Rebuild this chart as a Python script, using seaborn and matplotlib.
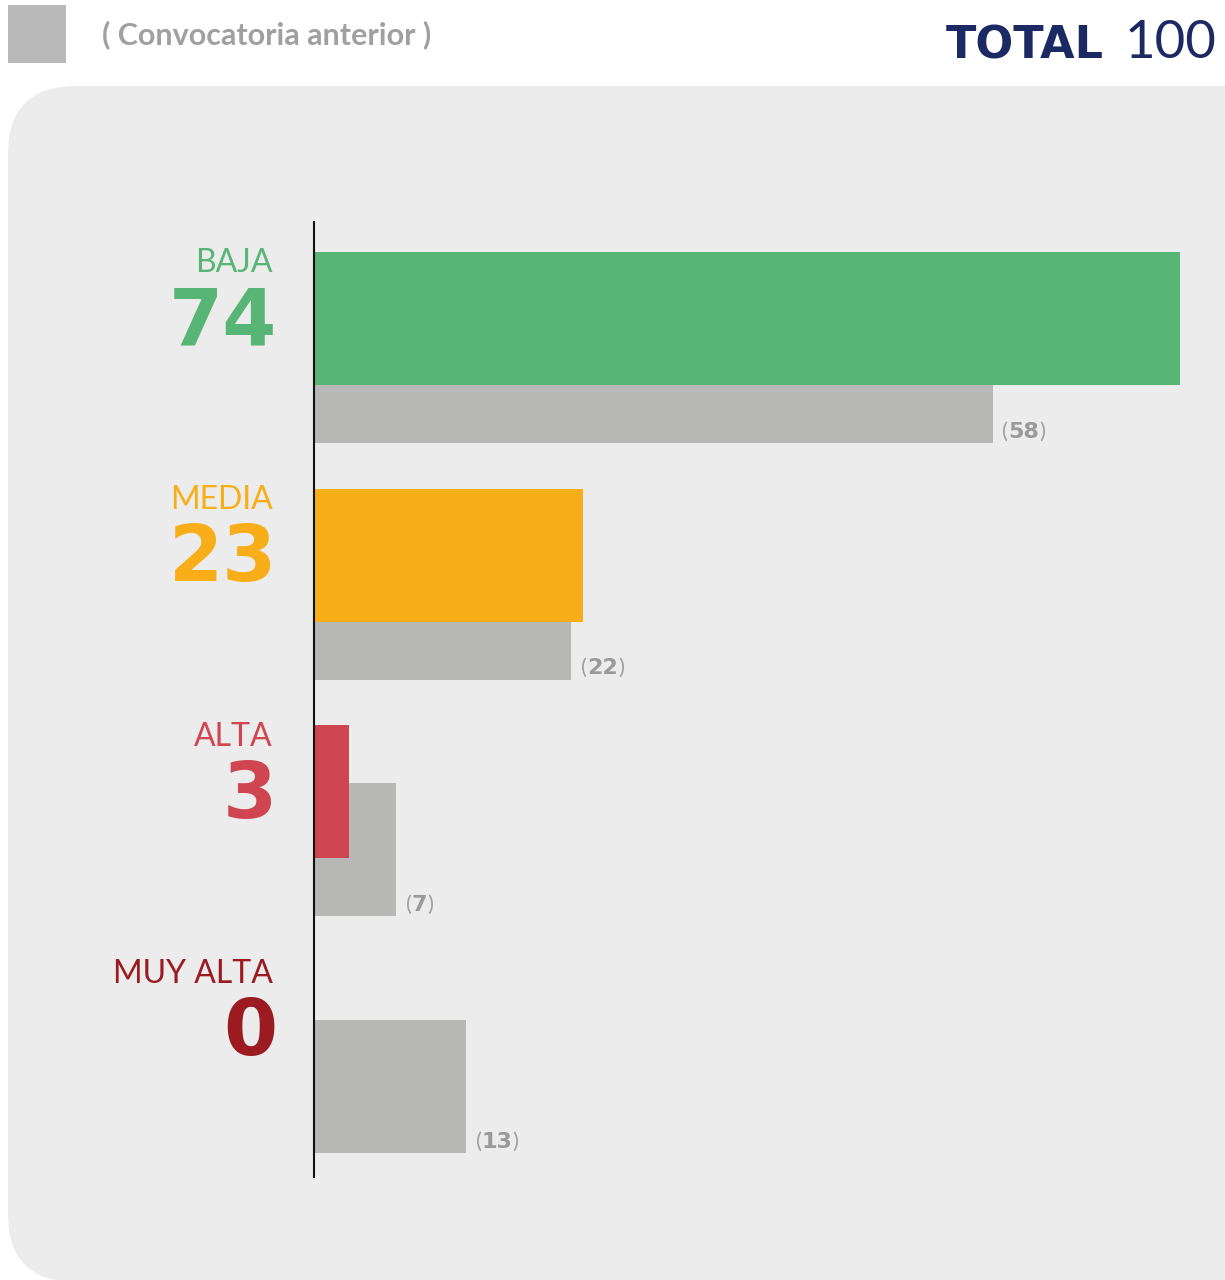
import matplotlib
matplotlib.use("Agg")
import matplotlib.pyplot as plt
from matplotlib.patches import FancyBboxPatch, Rectangle
from matplotlib.transforms import IdentityTransform
import seaborn as sns

# datos
categorias = ['BAJA', 'MEDIA', 'ALTA', 'MUY ALTA']
actual = [74, 23, 3, 0]
anterior = [58, 22, 7, 13]
colores = ['#57b575', '#f7ae19', '#cf4650', '#9b1b21']
gris = '#b8b8b6'
total = 100

sns.set_theme(style='white')
plt.rcParams['font.family'] = ['Lato', 'DejaVu Sans']

W, H = 1225, 1280
fig = plt.figure(figsize=(W / 100, H / 100), dpi=100)
fig.patch.set_facecolor('white')

# panel gris de fondo con esquinas redondeadas
panel = FancyBboxPatch((8, -2), 1400, H - 86 + 2, boxstyle='round,pad=0,rounding_size=68',
                       transform=IdentityTransform(), facecolor='#ececec', edgecolor='none', zorder=0)
fig.add_artist(panel)

# leyenda
fig.add_artist(Rectangle((8 / W, 1 - 63 / H), 58 / W, 58 / H, transform=fig.transFigure,
                         facecolor='#bab9ba', edgecolor='none'))
fig.text(102 / W, 1 - 35 / H, '( Convocatoria anterior )', fontsize=22, fontweight='bold',
         color='#a0a0a0', va='center', ha='left')
fig.text(1104 / W, 1 - 46 / H, 'TOTAL', fontsize=32, fontweight='black', color='#1b2a63',
         va='center', ha='right', family=['DejaVu Sans'])
fig.text(1217 / W, 1 - 43 / H, str(total), fontsize=38, fontweight='normal', color='#1b2a63',
         va='center', ha='right')

# ejes
pos = [314 / W, (H - 1177) / H, 911 / W, 955 / H]
ax = fig.add_axes(pos)
ax.patch.set_alpha(0)
ax2 = ax.twinx()
ax2.patch.set_alpha(0)

unit = 236.7  # px por categoria
sns.barplot(x=anterior, y=categorias, color=gris, orient='h', width=133 / unit,
            ax=ax, saturation=1, linewidth=0)
sns.barplot(x=actual, y=categorias, hue=categorias, palette=colores, orient='h',
            width=133 / unit, legend=False, ax=ax2, saturation=1, linewidth=0)

xmax = 911 / (866 / 74)
ax.set_xlim(0, xmax)
ax2.set_xlim(0, xmax)
top_cur = 96.5 / unit
ax2.set_ylim(-top_cur + 955 / unit, -top_cur)
top_prev = 154.5 / unit
ax.set_ylim(-top_prev + 955 / unit, -top_prev)

for a in (ax, ax2):
    a.set_xticks([])
    a.set_yticks([])
    a.set_xlabel('')
    a.set_ylabel('')
    for s in a.spines.values():
        s.set_visible(False)
ax2.spines['left'].set_visible(True)
ax2.spines['left'].set_color('#111111')
ax2.spines['left'].set_linewidth(1.5)
ax2.spines['left'].set_zorder(5)

# etiquetas de categoria y valor actual
xt = (273 - 314) / 911
for i, (cat, val, col) in enumerate(zip(categorias, actual, colores)):
    ax2.text(xt, i - 55 / unit, cat, transform=ax2.get_yaxis_transform(), ha='right',
             va='center', fontsize=23, fontweight='normal', color=col)
    ax2.text(xt + 4 / 911, i + 4 / unit, str(val), transform=ax2.get_yaxis_transform(), ha='right',
             va='center', fontsize=56, fontweight='black', color=col, family=['DejaVu Sans'])

# etiquetas convocatoria anterior
for i, val in enumerate(anterior):
    t1 = ax.annotate('(', xy=(val, i + 61 / unit), xytext=(7, 0), textcoords='offset points',
                     ha='left', va='baseline', fontsize=16, color='#a0a0a0')
    t2 = ax.annotate(str(val), xy=(1, i + 61 / unit), xycoords=(t1, 'data'), ha='left',
                     va='baseline', fontsize=16, color='#9a9a9a', fontweight='black',
                     family=['DejaVu Sans'])
    ax.annotate(')', xy=(1, i + 61 / unit), xycoords=(t2, 'data'), ha='left', va='baseline',
                fontsize=16, color='#a0a0a0')

fig.savefig('out.png', dpi=100)
